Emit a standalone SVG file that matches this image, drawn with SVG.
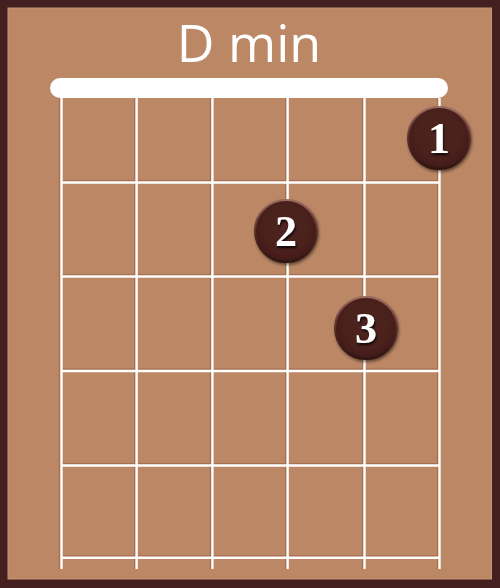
<svg xmlns="http://www.w3.org/2000/svg" width="500" height="588" viewBox="0 0 500 588">
<defs>
<radialGradient id="dotg" cx="50%" cy="45%" r="55%">
<stop offset="0" stop-color="#4f2421"/>
<stop offset="0.85" stop-color="#481f1c"/>
<stop offset="1" stop-color="#381614"/>
</radialGradient>
<linearGradient id="rim" x1="0" y1="0" x2="0" y2="1">
<stop offset="0" stop-color="#9a6a60"/>
<stop offset="0.5" stop-color="#5a2e2a"/>
<stop offset="1" stop-color="#2e1210"/>
</linearGradient>
<filter id="sh" x="-30%" y="-30%" width="160%" height="160%">
<feGaussianBlur in="SourceAlpha" stdDeviation="1.5"/>
<feOffset dx="1" dy="2" result="b"/>
<feComponentTransfer><feFuncA type="linear" slope="0.5"/></feComponentTransfer>
<feMerge><feMergeNode/><feMergeNode in="SourceGraphic"/></feMerge>
</filter>
<filter id="tsh" x="-30%" y="-30%" width="160%" height="160%">
<feGaussianBlur in="SourceAlpha" stdDeviation="0.8"/>
<feOffset dx="0.5" dy="1.5" result="b"/>
<feComponentTransfer><feFuncA type="linear" slope="0.8"/></feComponentTransfer>
<feMerge><feMergeNode/><feMergeNode in="SourceGraphic"/></feMerge>
</filter>
</defs>
<style>
.str{stroke:#ffffff;stroke-width:2.4}
.strs{stroke:#a46f52;stroke-width:1.5}
.fret{stroke:#ffffff;stroke-width:2.4}
.frets{stroke:#a46f52;stroke-width:1.5}
.dot{fill:url(#dotg);stroke:url(#rim);stroke-width:2}
.num{font-family:"Liberation Serif","DejaVu Serif",serif;font-weight:bold;font-size:44px;fill:#ffffff;text-anchor:middle}
.title{font-family:"Open Sans","Liberation Sans",sans-serif;font-size:52px;fill:#ffffff;text-anchor:middle}
</style>
<rect x="0" y="0" width="500" height="588" fill="#43201f"/>
<rect x="8" y="8" width="483.5" height="571" fill="#bb8765" stroke="#c99474" stroke-width="1"/>
<text class="title" x="249" y="62">D min</text>
<g id="connectors">
<g id="shadows">
<line class="strs" x1="59.7" y1="98" x2="59.7" y2="569"/>
<line class="strs" x1="134.8" y1="98" x2="134.8" y2="569"/>
<line class="strs" x1="210.6" y1="98" x2="210.6" y2="569"/>
<line class="strs" x1="285.8" y1="98" x2="285.8" y2="569"/>
<line class="strs" x1="362.7" y1="98" x2="362.7" y2="569"/>
<line class="strs" x1="437.7" y1="98" x2="437.7" y2="569"/>
<line class="frets" x1="62" y1="180.7" x2="440" y2="180.7"/>
<line class="frets" x1="62" y1="274.8" x2="440" y2="274.8"/>
<line class="frets" x1="62" y1="369.2" x2="440" y2="369.2"/>
<line class="frets" x1="62" y1="463.8" x2="440" y2="463.8"/>
<line class="frets" x1="62" y1="556" x2="440" y2="556"/>
</g>
<line class="str" x1="61.5" y1="98" x2="61.5" y2="569"/>
<line class="str" x1="136.6" y1="98" x2="136.6" y2="569"/>
<line class="str" x1="212.4" y1="98" x2="212.4" y2="569"/>
<line class="str" x1="287.6" y1="98" x2="287.6" y2="569"/>
<line class="str" x1="364.5" y1="98" x2="364.5" y2="569"/>
<line class="str" x1="439.5" y1="98" x2="439.5" y2="569"/>
<line class="fret" x1="61.5" y1="182.5" x2="439.5" y2="182.5"/>
<line class="fret" x1="61.5" y1="276.5" x2="439.5" y2="276.5"/>
<line class="fret" x1="61.5" y1="371" x2="439.5" y2="371"/>
<line class="fret" x1="61.5" y1="465.5" x2="439.5" y2="465.5"/>
<line class="fret" x1="61.5" y1="557.8" x2="439.5" y2="557.8"/>
</g>
<g id="nut"><rect x="50" y="78" width="398" height="20" rx="10" fill="#ffffff"/></g>
<g id="finger1" filter="url(#sh)">
<circle class="dot" cx="439" cy="138" r="31"/>
<text class="num" x="439" y="153" filter="url(#tsh)">1</text>
</g>
<g id="finger2" filter="url(#sh)">
<circle class="dot" cx="286" cy="231" r="31"/>
<text class="num" x="286" y="246" filter="url(#tsh)">2</text>
</g>
<g id="finger3" filter="url(#sh)">
<circle class="dot" cx="366" cy="328" r="31"/>
<text class="num" x="366" y="343" filter="url(#tsh)">3</text>
</g>
</svg>
